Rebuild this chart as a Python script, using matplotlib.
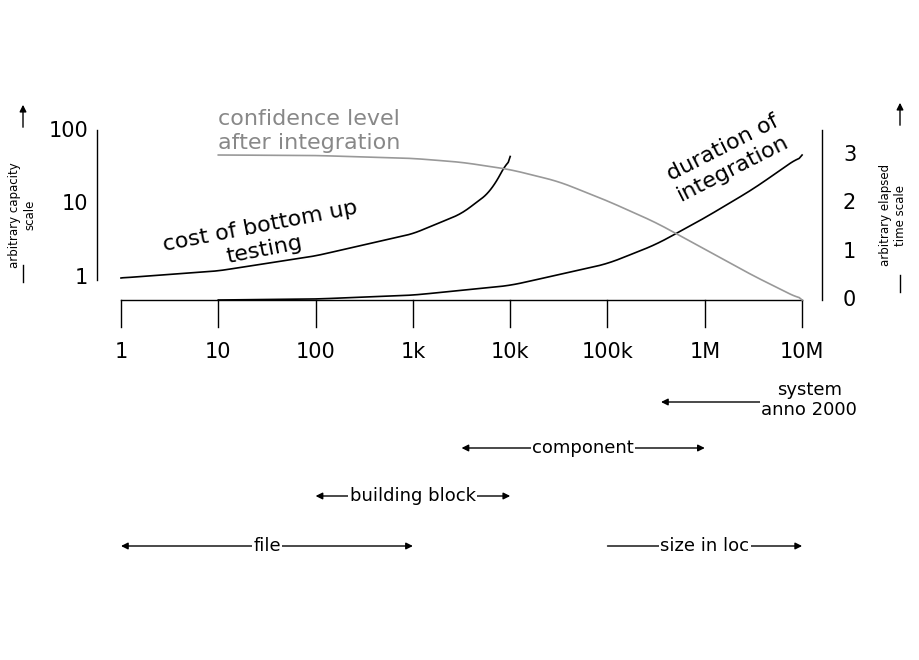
import numpy as np
import matplotlib
matplotlib.use("Agg")
import matplotlib.pyplot as plt

# data (x in decades of lines of code: 0 -> 1 loc, 7 -> 10M loc)
x_ticks = [0, 1, 2, 3, 4, 5, 6, 7]
x_labels = ["1", "10", "100", "1k", "10k", "100k", "1M", "10M"]
cap_ticks = [1, 10, 100]
time_ticks = [0, 1, 2, 3]

cost_x = [0, 1, 2, 3, 3.5, 3.8, 4.0]
cost_val = [1.0, 1.25, 2.0, 4.0, 7.5, 15, 45]          # capacity (log scale)
dur_x = [1, 2, 3, 4, 5, 5.5, 6, 6.5, 7]
dur_val = [0.0, 0.02, 0.1, 0.3, 0.75, 1.15, 1.7, 2.3, 3.0]
conf_x = [1, 2, 3, 3.5, 4, 4.5, 5, 5.5, 6, 6.5, 7]
conf_val = [3.0, 2.99, 2.93, 2.85, 2.7, 2.45, 2.05, 1.6, 1.05, 0.5, 0.0]

ranges = [("system\nanno 2000", 5.55, 7.5, 400), ("component", 3.5, 6.0, 448),
          ("building block", 2.0, 4.0, 496), ("file", 0.0, 3.0, 546)]

W, H = 920, 660
PX_DEC = 97.3
X0 = 121
PX_T = 48.33
Y0 = 300

def cap_to_t(c):
    ypx = 278 - 73.5 * np.log10(c)
    return (Y0 - ypx) / PX_T

def py(ypx):
    return (Y0 - ypx) / PX_T

def px(xpx):
    return (xpx - X0) / PX_DEC

fig = plt.figure(figsize=(W / 100, H / 100), dpi=100)
ax = fig.add_axes([0, 0, 1, 1])
ax.set_xlim(px(0), px(W))
ax.set_ylim(py(H), py(0))
ax.axis("off")

# x axis
ax.plot([0, 7], [0, 0], color="black", lw=1)
for t, l in zip(x_ticks, x_labels):
    ax.plot([t, t], [0, py(327)], color="black", lw=1)
    ax.text(t, py(352), l, ha="center", va="center", fontsize=15)

# left axis
ax.plot([px(97)] * 2, [py(280), py(130)], color="black", lw=1)
for c in cap_ticks:
    ax.text(px(88), cap_to_t(c), str(c), ha="right", va="center", fontsize=15)
ax.text(px(22), py(215), "arbitrary capacity\nscale", rotation=90, ha="center",
        va="center", fontsize=8.5)
ax.annotate("", xy=(px(23), py(102)), xytext=(px(23), py(130)),
            arrowprops=dict(arrowstyle="-|>", color="black", lw=1))
ax.plot([px(23)] * 2, [py(282), py(265)], color="black", lw=1)

# right axis
ax.plot([px(822)] * 2, [0, py(130)], color="black", lw=1)
for t in time_ticks:
    ax.text(px(843), t, str(t), ha="left", va="center", fontsize=15)
ax.text(px(893), py(215), "arbitrary elapsed\ntime scale", rotation=90, ha="center",
        va="center", fontsize=8.5)
ax.annotate("", xy=(px(900), py(100)), xytext=(px(900), py(128)),
            arrowprops=dict(arrowstyle="-|>", color="black", lw=1))
ax.plot([px(900)] * 2, [py(292), py(275)], color="black", lw=1)

# curves
def smooth(xs, ys, n=200):
    xx = np.linspace(xs[0], xs[-1], n)
    from numpy.polynomial import polynomial as P
    # monotone piecewise cubic (PCHIP-like via simple Catmull-Rom)
    xs = np.asarray(xs, float); ys = np.asarray(ys, float)
    out = np.interp(xx, xs, ys)
    k = np.ones(9) / 9
    pad = np.pad(out, 4, mode="edge")
    sm = np.convolve(pad, k, mode="valid")
    sm[0], sm[-1] = ys[0], ys[-1]
    return xx, sm

cx, cv = smooth(cost_x, np.log10(cost_val))
ax.plot(cx, cap_to_t(10 ** cv), color="black", lw=1.2)
dx, dv = smooth(dur_x, dur_val)
ax.plot(dx, dv, color="black", lw=1.2)
gx, gv = smooth(conf_x, conf_val)
ax.plot(gx, gv, color="#999999", lw=1.2)

ax.text(1, py(131), "confidence level\nafter integration", color="#888888",
        fontsize=16, ha="left", va="center", linespacing=1.2)
ax.text(px(262), py(238), "cost of bottom up\ntesting", fontsize=16, rotation=11,
        ha="center", va="center", rotation_mode="anchor")
ax.text(px(728), py(158), "duration of\nintegration", fontsize=16, rotation=27,
        ha="center", va="center", rotation_mode="anchor")

# ranges
for label, a, b, ypix in ranges:
    y = py(ypix) if "\n" not in label else py(402)
    ax.annotate("", xy=(a, y), xytext=(b, y),
                arrowprops=dict(arrowstyle="<|-|>", color="black", lw=1,
                                shrinkA=0, shrinkB=0))
    ax.text((a + b) / 2 + (0.55 if "\n" in label else 0), py(ypix), label,
            ha="center", va="center", fontsize=13,
            bbox=dict(facecolor="white", edgecolor="none", pad=1))
ax.annotate("", xy=(7, py(546)), xytext=(5, py(546)),
            arrowprops=dict(arrowstyle="-|>", color="black", lw=1,
                            shrinkA=0, shrinkB=0))
ax.text(6.0, py(546), "size in loc", ha="center", va="center", fontsize=13,
        bbox=dict(facecolor="white", edgecolor="none", pad=1))

fig.savefig("out.png", dpi=100)
